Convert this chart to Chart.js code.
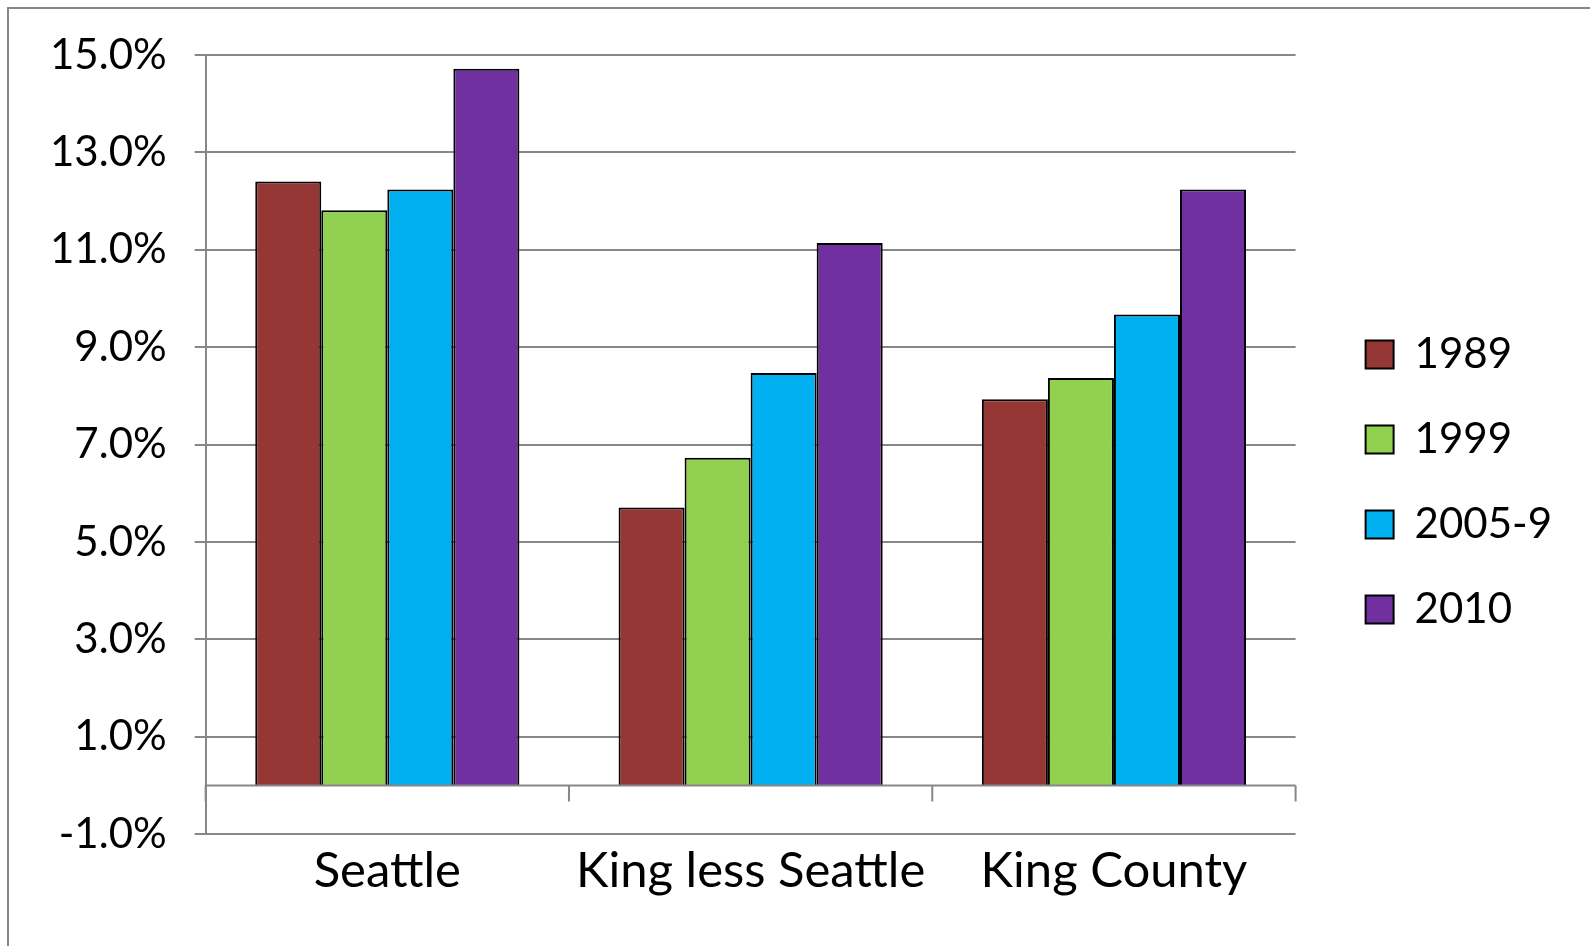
<!DOCTYPE html>
<html>
<head>
<meta charset="utf-8">
<script src="https://cdn.jsdelivr.net/npm/chart.js@4.4.0/dist/chart.umd.min.js"></script>
<style>
  html, body { margin: 0; padding: 0; background: #fff; }
  #wrap { position: relative; width: 1590px; height: 946px; overflow: hidden; }
  #frame { position: absolute; left: 7px; top: 7px; width: 1620px; height: 980px;
           border-left: 2px solid #878787; border-top: 2px solid #878787; }
  canvas { position: absolute; left: 0; top: 0; }
</style>
</head>
<body>
<div id="wrap">
  <div id="frame"></div>
  <canvas id="myChart" width="1590" height="946"></canvas>
</div>
<script>
const categories = ['Seattle', 'King less Seattle', 'King County'];
const seriesNames = ['1989', '1999', '2005-9', '2010'];
const values1989 = [12.40, 5.71, 7.93];
const values1999 = [11.81, 6.73, 8.37];
const values2005 = [12.24, 8.47, 9.67];
const values2010 = [14.72, 11.14, 12.24];
const yTicks = [-1, 1, 3, 5, 7, 9, 11, 13, 15];
const colors = ['#953735', '#92D050', '#00B0F0', '#7030A0'];

const gridColor = '#878787';
const allValues = [values1989, values1999, values2005, values2010];

// axis at 0 plus the category tick marks hanging from it
const zeroAxis = {
  id: 'zeroAxis',
  afterDatasetsDraw(chart) {
    const { ctx, chartArea, scales: { x, y } } = chart;
    const y0 = y.getPixelForValue(0);
    ctx.save();
    ctx.strokeStyle = gridColor;
    ctx.lineWidth = 2;
    ctx.beginPath();
    ctx.moveTo(chartArea.left, y0);
    ctx.lineTo(chartArea.right, y0);
    for (let i = 0; i <= categories.length; i++) {
      const xp = x.getPixelForValue(i - 0.5);
      ctx.moveTo(xp, y0);
      ctx.lineTo(xp, y0 + 16);
    }
    ctx.stroke();
    ctx.restore();
  }
};

const ctx = document.getElementById('myChart');

new Chart(ctx, {
  type: 'bar',
  data: {
    labels: categories,
    datasets: seriesNames.map((name, i) => ({
      label: name,
      data: allValues[i],
      backgroundColor: colors[i],
      borderColor: '#000000',
      borderWidth: 2,
      categoryPercentage: 0.727,
      barPercentage: 1.0
    }))
  },
  options: {
    responsive: false,
    animation: false,
    devicePixelRatio: 1,
    layout: { padding: { left: 22, top: 55, right: 28, bottom: 37 } },
    plugins: {
      legend: {
        position: 'right',
        align: 'center',
        labels: {
          color: '#000',
          font: { family: 'Lato', size: 42 },
          boxWidth: 28,
          boxHeight: 28,
          padding: 43
        }
      },
      tooltip: { enabled: false }
    },
    scales: {
      x: {
        grid: { display: false, drawTicks: false },
        border: { display: false },
        ticks: {
          color: '#000',
          font: { family: 'Lato', size: 49 },
          padding: 8
        }
      },
      y: {
        min: yTicks[0],
        max: yTicks[yTicks.length - 1],
        grid: { color: gridColor, lineWidth: 2, tickLength: 11, drawTicks: true },
        border: { display: true, color: gridColor, width: 2 },
        ticks: {
          stepSize: yTicks[1] - yTicks[0],
          color: '#000',
          font: { family: 'Lato', size: 42 },
          padding: 28,
          callback: (v) => v.toFixed(1) + '%'
        }
      },
      gap: {
        type: 'linear',
        position: 'right',
        display: true,
        grid: { display: false, drawTicks: false },
        border: { display: false },
        ticks: { display: false },
        afterFit: (s) => { s.width = 27; }
      }
    }
  },
  plugins: [zeroAxis]
});
</script>
</body>
</html>
